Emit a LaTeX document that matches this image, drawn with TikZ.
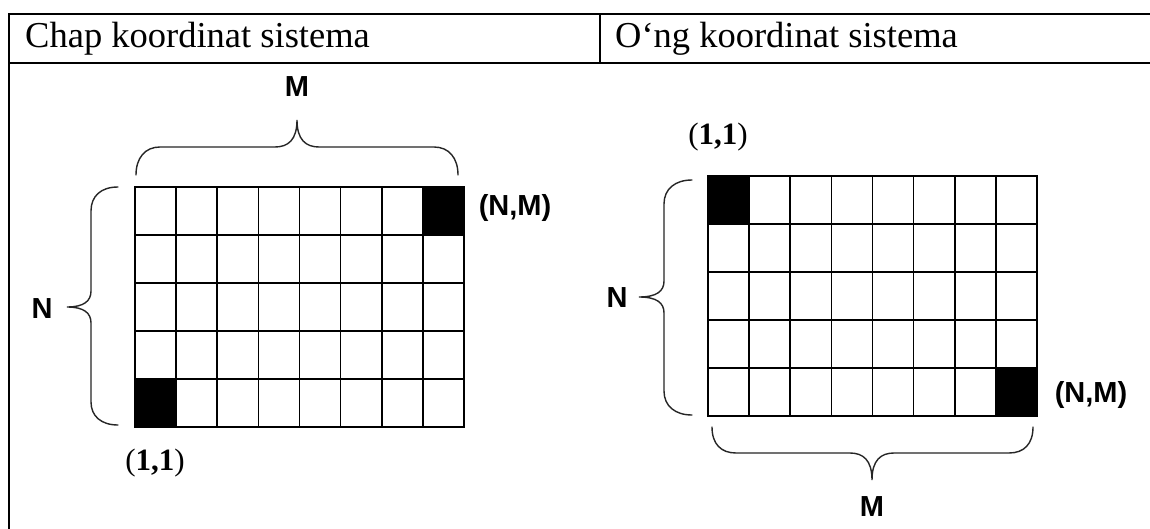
\documentclass[tikz,border=0pt]{standalone}
\usepackage{fontspec}
\setmainfont{Liberation Serif}
\newfontfamily\labelfont{Liberation Sans}
\begin{document}
\begin{tikzpicture}[x=1pt,y=-1pt,
  tableline/.style={line width=2.6pt, line join=miter},
  thinrule/.style={line width=2pt},
  gridline/.style={line width=1.6pt, line cap=rect},
  bracestyle/.style={line width=1.4pt, draw=black!85, line cap=round},
  sanslabel/.style={font=\labelfont\bfseries\fontsize{29}{32}\selectfont, inner sep=0pt},
  seriflabel/.style={font=\fontsize{31}{34}\selectfont, inner sep=0pt},
  headtext/.style={font=\fontsize{36.5}{40}\selectfont, inner sep=0pt, anchor=base west}]

\useasboundingbox (0,0) rectangle (1150,529);
\fill[white] (0,0) rectangle (1150,529);

% ---- table frame
\draw[tableline] (1150,14) -- (9,14) -- (9,529);
\draw[tableline] (9,63) -- (1150,63);
\draw[thinrule] (600,14) -- (600,63);

\node[headtext] (hL) at (25,48) {Chap koordinat sistema};
\node[headtext] (hR) at (615,48) {O‘ng koordinat sistema};

% ---- left grid (origin bottom-left)
\fill (135,379) rectangle (176.125,427);
\fill (422.875,187) rectangle (464,235);
\foreach \i in {0,...,8} {\draw[gridline] ({135+41.125*\i},187) -- ({135+41.125*\i},427);}
\foreach \j in {0,...,5} {\draw[gridline] (135,{187+48*\j}) -- (464,{187+48*\j});}

% ---- right grid (origin top-left)
\fill (708,176) rectangle (749.125,224);
\fill (995.875,368) rectangle (1037,416);
\foreach \i in {0,...,8} {\draw[gridline] ({708+41.125*\i},176) -- ({708+41.125*\i},416);}
\foreach \j in {0,...,5} {\draw[gridline] (708,{176+48*\j}) -- (1037,{176+48*\j});}

% ---- braces
% left: top M brace
\draw[bracestyle] (136,175) .. controls (136,158) and (145,147) .. (160,147) -- (275,147)
  .. controls (288,147) and (297,140) .. (297,120)
  .. controls (297,140) and (306,147) .. (319,147) -- (434,147)
  .. controls (449,147) and (458,158) .. (458,175);
% left: N brace
\draw[bracestyle] (118,187) .. controls (101,187) and (91,196) .. (91,211) -- (91,291)
  .. controls (91,301) and (84,307) .. (67,307)
  .. controls (84,307) and (91,313) .. (91,323) -- (91,402)
  .. controls (91,416) and (101,425) .. (118,425);
% right: N brace
\draw[bracestyle] (692,180) .. controls (675,180) and (664,189) .. (664,204) -- (664,281)
  .. controls (664,291) and (657,297) .. (639,297)
  .. controls (657,297) and (664,303) .. (664,313) -- (664,391)
  .. controls (664,406) and (675,415) .. (692,415);
% right: bottom M brace
\draw[bracestyle] (712,427) .. controls (712,444) and (721,453) .. (736,453) -- (850,453)
  .. controls (863,453) and (872,460) .. (872,480)
  .. controls (872,460) and (881,453) .. (894,453) -- (1009,453)
  .. controls (1024,453) and (1033,444) .. (1033,427);

% ---- labels
\node[sanslabel] (LM) at (297,87) {M};
\node[sanslabel] (LNM) at (515,208) {(N,M)};
\node[sanslabel] (LN) at (42,309) {N};
\node[seriflabel] (L11) at (155,463) {(\textbf{1,1})};

\node[seriflabel] (R11) at (718,137) {(\textbf{1,1})};
\node[sanslabel] (RN) at (617,298) {N};
\node[sanslabel] (RNM) at (1091,395) {(N,M)};
\node[sanslabel] (RM) at (872,507) {M};
\end{tikzpicture}
\end{document}
